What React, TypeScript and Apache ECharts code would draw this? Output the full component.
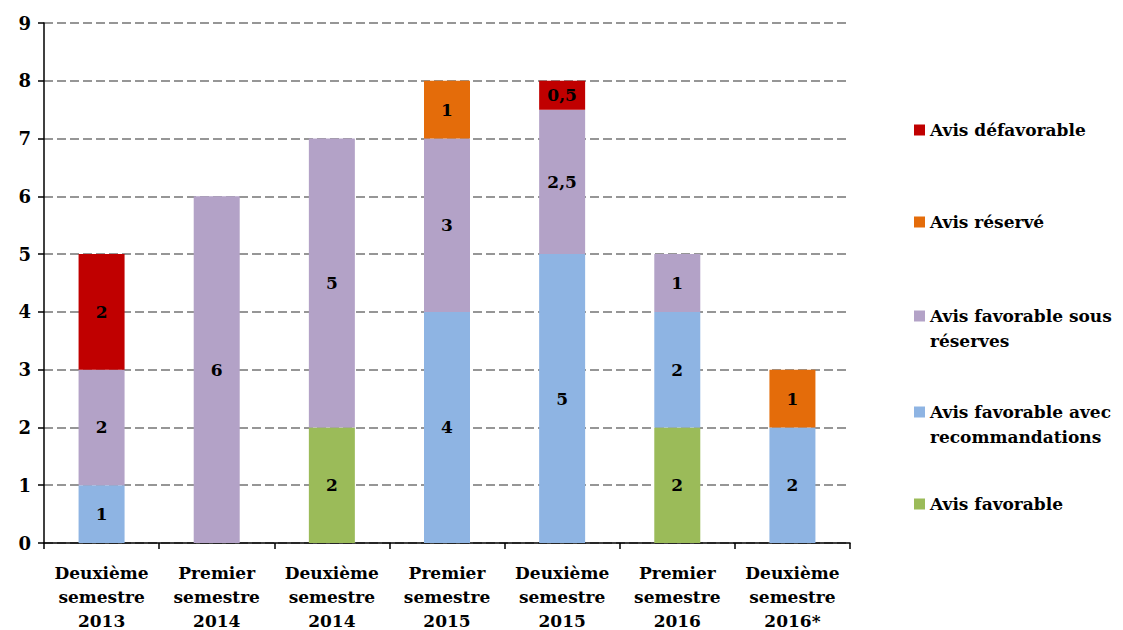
import React, { useEffect, useRef } from "react";
import * as echarts from "echarts";

const categories = [
  "Deuxième\nsemestre\n2013",
  "Premier\nsemestre\n2014",
  "Deuxième\nsemestre\n2014",
  "Premier\nsemestre\n2015",
  "Deuxième\nsemestre\n2015",
  "Premier\nsemestre\n2016",
  "Deuxième\nsemestre\n2016*",
];

const favorable = [null, null, 2, null, null, 2, null];
const favorableReco = [1, null, null, 4, 5, 2, 2];
const favorableReserves = [2, 6, 5, 3, 2.5, 1, null];
const reserve = [null, null, null, 1, null, null, 1];
const defavorable = [2, null, null, null, 0.5, null, null];

const seriesNames = [
  "Avis favorable",
  "Avis favorable avec recommandations",
  "Avis favorable sous réserves",
  "Avis réservé",
  "Avis défavorable",
];
const legendLabels: Record<string, string> = {
  "Avis favorable": "Avis favorable",
  "Avis favorable avec recommandations": "\nAvis favorable avec\nrecommandations",
  "Avis favorable sous réserves": "\nAvis favorable sous\nréserves",
  "Avis réservé": "Avis réservé",
  "Avis défavorable": "Avis défavorable",
};
const colors = ["#9BBB59", "#8EB4E3", "#B3A2C7", "#E46C0A", "#C00000"];
const seriesData = [favorable, favorableReco, favorableReserves, reserve, defavorable];

const FONT = "DejaVu Serif";

export default function App() {
  const ref = useRef<HTMLDivElement>(null);
  useEffect(() => {
    if (!ref.current) return;
    const chart = echarts.init(ref.current, null, { renderer: "svg" });
    const legendCenters = [504, 412, 316, 222, 130];
    const legends = seriesNames.map((name, i) => {
      const multi = legendLabels[name].includes("\n");
      return {
        show: true,
        data: [name],
        left: 914,
        top: multi ? legendCenters[i] - 37.5 : legendCenters[i] - 12.5,
        padding: 0,
        itemWidth: 11,
        itemHeight: 11,
        itemGap: 0,
        icon: "rect",
        selectedMode: false,
        formatter: (n: string) => legendLabels[n],
        textStyle: {
          fontFamily: FONT,
          fontWeight: "bold",
          fontSize: 17,
          color: "#000",
          lineHeight: 25,
        },
      };
    });
    chart.setOption({
      animation: false,
      color: colors,
      grid: { left: 44, right: 273, top: 23, bottom: 87, outerBoundsMode: "none" },
      legend: legends,
      xAxis: {
        type: "category",
        data: categories,
        axisLine: { lineStyle: { color: "#000", width: 1.5 } },
        axisTick: { show: true, length: 6, lineStyle: { color: "#000", width: 1.5 } },
        axisLabel: {
          interval: 0,
          margin: 18,
          fontFamily: FONT,
          fontWeight: "bold",
          fontSize: 17,
          color: "#000",
          lineHeight: 24,
        },
      },
      yAxis: {
        type: "value",
        min: 0,
        max: 9,
        interval: 1,
        axisLine: { show: true, lineStyle: { color: "#000", width: 1.5 } },
        axisTick: { show: true, length: 6, lineStyle: { color: "#000", width: 1.5 } },
        axisLabel: {
          margin: 13,
          fontFamily: FONT,
          fontWeight: "bold",
          fontSize: 18,
          color: "#000",
        },
        splitLine: {
          show: true,
          lineStyle: { color: "#969696", width: 2, type: [9, 4] },
        },
      },
      series: seriesNames.map((name, i) => ({
        name,
        type: "bar",
        stack: "total",
        barWidth: 46,
        data: seriesData[i],
        itemStyle: { color: colors[i] },
        label: {
          show: true,
          position: "inside",
          fontFamily: FONT,
          fontWeight: "bold",
          fontSize: 17,
          color: "#000",
          formatter: (p: any) => String(p.value).replace(".", ","),
        },
      })),
    });
    return () => chart.dispose();
  }, []);
  return (
    <div
      ref={ref}
      style={{ position: "fixed", left: 0, top: 0, width: 1123, height: 630, background: "#fff" }}
    />
  );
}
